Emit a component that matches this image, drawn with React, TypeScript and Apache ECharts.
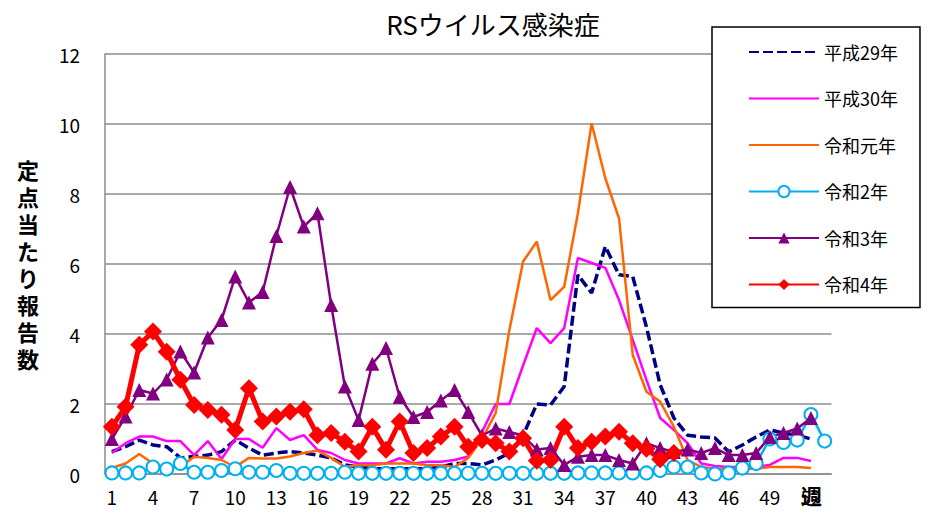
import React, { useEffect, useRef } from "react";
import * as echarts from "echarts";

const weeks: string[] = Array.from({ length: 53 }, (_, i) => String(i + 1));

const h29: number[] = [0.64, 0.78, 0.97, 0.83, 0.78, 0.46, 0.5, 0.54, 0.64, 0.97, 0.74, 0.54, 0.6, 0.64, 0.6, 0.54, 0.46, 0.26, 0.2, 0.15, 0.15, 0.15, 0.15, 0.15, 0.2, 0.3, 0.3, 0.26, 0.4, 0.6, 1.1, 2.0, 1.97, 2.5, 5.69, 5.17, 6.5, 5.69, 5.64, 4.2, 2.55, 1.6, 1.11, 1.06, 1.03, 0.63, 0.83, 1.06, 1.26, 1.17, 1.11, 1.0];
const h30: number[] = [0.6, 0.88, 1.07, 1.07, 0.94, 0.94, 0.54, 0.94, 0.43, 1.0, 1.0, 0.75, 1.31, 0.97, 1.11, 0.69, 0.6, 0.4, 0.3, 0.3, 0.3, 0.45, 0.3, 0.35, 0.35, 0.4, 0.5, 1.2, 2.0, 2.0, 3.1, 4.17, 3.74, 4.17, 6.17, 6.03, 5.89, 4.97, 3.83, 2.69, 1.6, 1.26, 0.88, 0.3, 0.23, 0.2, 0.2, 0.2, 0.26, 0.46, 0.46, 0.37];
const r1: number[] = [0.17, 0.3, 0.57, 0.3, 0.17, 0.2, 0.49, 0.46, 0.4, 0.2, 0.46, 0.44, 0.44, 0.5, 0.6, 0.67, 0.46, 0.2, 0.26, 0.25, 0.3, 0.3, 0.3, 0.25, 0.25, 0.2, 0.46, 1.0, 1.74, 4.11, 6.07, 6.64, 4.97, 5.35, 7.45, 10.02, 8.45, 7.3, 3.4, 2.35, 2.07, 1.35, 0.4, 0.2, 0.15, 0.15, 0.15, 0.15, 0.2, 0.2, 0.2, 0.17];
const r2: number[] = [0.03, 0.03, 0.03, 0.2, 0.14, 0.3, 0.05, 0.05, 0.1, 0.15, 0.05, 0.05, 0.1, 0.02, 0.02, 0.02, 0.02, 0.05, 0.02, 0.02, 0.02, 0.02, 0.02, 0.02, 0.02, 0.02, 0.02, 0.02, 0.02, 0.02, 0.02, 0.02, 0.02, 0.02, 0.03, 0.03, 0.03, 0.03, 0.03, 0.03, 0.1, 0.2, 0.2, 0.03, 0.0, 0.03, 0.17, 0.3, 1.0, 0.9, 0.97, 1.7, 0.94];
const r3: number[] = [1.0, 1.64, 2.4, 2.3, 2.7, 3.5, 2.9, 3.9, 4.4, 5.64, 4.9, 5.2, 6.8, 8.2, 7.07, 7.45, 4.83, 2.5, 1.54, 3.15, 3.6, 2.2, 1.63, 1.77, 2.1, 2.4, 1.77, 1.1, 1.3, 1.2, 1.1, 0.7, 0.74, 0.26, 0.49, 0.54, 0.54, 0.4, 0.3, 0.88, 0.74, 0.63, 0.7, 0.6, 0.74, 0.54, 0.54, 0.6, 1.06, 1.17, 1.3, 1.6];
const r4: number[] = [1.35, 1.92, 3.69, 4.07, 3.49, 2.69, 1.97, 1.83, 1.69, 1.26, 2.45, 1.5, 1.64, 1.78, 1.85, 1.11, 1.17, 0.92, 0.64, 1.35, 0.69, 1.5, 0.6, 0.74, 1.07, 1.35, 0.78, 0.97, 0.88, 0.64, 1.02, 0.38, 0.4, 1.35, 0.74, 0.92, 1.07, 1.21, 0.88, 0.72, 0.42, 0.6];

const yTitle = "定点当たり報告数";
const FONT = "'Noto Sans CJK JP', 'Noto Sans', sans-serif";

export default function App() {
  const ref = useRef<HTMLDivElement>(null);
  useEffect(() => {
    document.body.style.margin = "0";
    if (!ref.current) return;
    const chart = echarts.init(ref.current, undefined, { renderer: "svg" });
    const yTitleChars = Array.from(yTitle).map((ch, i) => ({
      type: "text",
      x: 28,
      y: 169 + i * 27,
      style: {
        text: ch,
        fontSize: 22,
        fill: "#000",
        fontFamily: FONT,
        fontWeight: "bold",
        align: "center",
        verticalAlign: "middle",
      },
    }));
    chart.setOption({
      animation: false,
      textStyle: { fontFamily: FONT },
      title: {
        text: "RSウイルス感染症",
        left: 488,
        top: 5,
        textAlign: "center",
        textStyle: { fontSize: 26, fontWeight: "normal", color: "#000", fontFamily: FONT },
      },
      grid: { left: 105, right: 111.5, top: 54, bottom: 45, containLabel: false },
      legend: {
        orient: "vertical",
        left: 712,
        top: 27,
        padding: [16, 22, 14, 36],
        itemWidth: 70,
        itemHeight: 14,
        itemGap: 28.5,
        borderColor: "#000",
        borderWidth: 1.5,
        backgroundColor: "#fff",
        textStyle: { fontSize: 18, color: "#000", fontFamily: FONT },
        data: [
          { name: "平成29年", itemStyle: { opacity: 0 } },
          { name: "平成30年", itemStyle: { opacity: 0 } },
          { name: "令和元年", itemStyle: { opacity: 0 } },
          { name: "令和2年" },
          { name: "令和3年" },
          { name: "令和4年" },
        ],
      },
      xAxis: {
        type: "category",
        data: weeks,
        boundaryGap: true,
        axisLine: { show: true, lineStyle: { color: "#8c8c8c", width: 1.5 } },
        axisTick: { show: false },
        axisLabel: { interval: 2, fontSize: 19, color: "#000", margin: 13, fontFamily: FONT },
      },
      yAxis: {
        type: "value",
        min: 0,
        max: 12,
        interval: 2,
        axisLine: { show: true, lineStyle: { color: "#8c8c8c", width: 1.5 } },
        axisTick: { show: false },
        splitLine: { show: true, lineStyle: { color: "#8c8c8c", width: 1.5 } },
        axisLabel: { fontSize: 19, color: "#000", margin: 25, fontFamily: FONT },
      },
      graphic: [
        ...yTitleChars,
        {
          type: "text",
          left: 801,
          top: 484,
          style: { text: "週", fontSize: 21, fill: "#000", fontFamily: FONT, fontWeight: "bold" },
        },
      ],
      series: [
        {
          name: "平成29年",
          type: "line",
          data: h29,
          symbol: "none",
          lineStyle: { color: "#000080", width: 3.5, type: [10, 4] },
          itemStyle: { color: "#000080" },
        },
        {
          name: "平成30年",
          type: "line",
          data: h30,
          symbol: "none",
          lineStyle: { color: "#ff00ff", width: 2.5 },
          itemStyle: { color: "#ff00ff" },
        },
        {
          name: "令和元年",
          type: "line",
          data: r1,
          symbol: "none",
          lineStyle: { color: "#ff6600", width: 2.5 },
          itemStyle: { color: "#ff6600" },
        },
        {
          name: "令和2年",
          type: "line",
          data: r2,
          symbol: "circle",
          symbolSize: 13,
          showAllSymbol: true,
          lineStyle: { color: "#00b0f0", width: 2.5 },
          itemStyle: { color: "#fff", borderColor: "#00b0f0", borderWidth: 2 },
        },
        {
          name: "令和3年",
          type: "line",
          data: r3,
          symbol: "triangle",
          symbolSize: 14,
          showAllSymbol: true,
          lineStyle: { color: "#800080", width: 2.5 },
          itemStyle: { color: "#800080" },
        },
        {
          name: "令和4年",
          type: "line",
          data: r4,
          symbol: "diamond",
          symbolSize: 18,
          showAllSymbol: true,
          lineStyle: { color: "#ff0000", width: 5 },
          itemStyle: { color: "#ff0000" },
        },
      ],
    });
    return () => chart.dispose();
  }, []);
  return <div ref={ref} style={{ width: 943, height: 519 }} />;
}
